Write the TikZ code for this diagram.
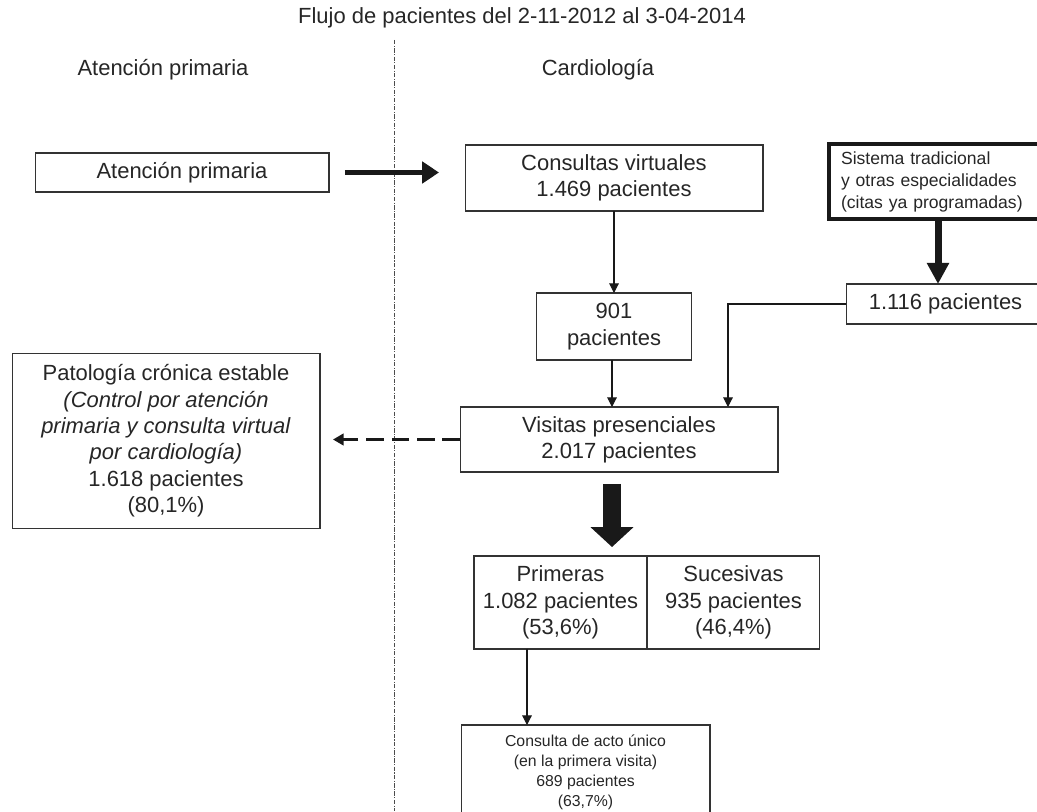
\documentclass[tikz,border=0pt]{standalone}
\usepackage{fontspec}
\setmainfont{Liberation Sans}
\usetikzlibrary{positioning, arrows.meta}

\begin{document}
\begin{tikzpicture}[x=0.02cm, y=-0.02cm,
    box/.style={rectangle, draw=black!80, line width=0.6pt, inner sep=0pt, outer sep=0pt,
      align=center, font=\fontsize{12.5}{15}\selectfont, text=black!85},
    boxthick/.style={rectangle, draw=black!90, line width=1.8pt, inner xsep=0.24cm,
      text width=3.88cm, align=left, font=\fontsize{10}{12.5}\selectfont, text=black!85},
    boxsmall/.style={box, font=\fontsize{9}{11.3}\selectfont},
    lab/.style={font=\fontsize{12.5}{15}\selectfont, text=black!85},
    arrow/.style={-{Triangle[width=5.5pt, length=5.5pt]}, line width=0.6pt, black!90},
    fatarrow/.style={-{Triangle[width=12pt, length=9.6pt]}, line width=3.4pt, black!90},
    fatterarrow/.style={-{Triangle[width=12pt, length=12pt]}, line width=4pt, black!90},
    bigarrow/.style={-{Triangle[width=23.8pt, length=11.3pt]}, line width=10.8pt, black!90},
    dasharrow/.style={-{Triangle[width=6.5pt, length=6pt]}, line width=1.4pt,
      dash pattern=on 10pt off 4.5pt, black!90},
    divider/.style={line width=0.5pt, black!70,
      dash pattern=on 2.5pt off 0.8pt on 0.6pt off 0.8pt}
  ]
    \clip (0,0) rectangle (1037,811);

    % titles
    \node[lab] (title) at (522,18) {Flujo de pacientes del 2-11-2012 al 3-04-2014};
    \node[lab] (hap)   at (163,70) {Atención primaria};
    \node[lab] (hcar)  at (598,70) {Cardiología};
    \draw[divider] (394,40) -- (394,811);

    % boxes
    \node[box, minimum width=5.88cm, minimum height=0.78cm] (ap) at (182,172.5) {Atención primaria};
    \node[box, minimum width=5.96cm, minimum height=1.32cm] (cv) at (614,178)
      {Consultas virtuales\\1.469 pacientes};
    \node[boxthick, minimum height=1.5cm] (st) at (938,181.5)
      {Sistema tradicional\\y otras especialidades\\(citas ya programadas)};
    \node[box, minimum width=3.98cm, minimum height=0.8cm] (n1116) at (945.5,304) {1.116 pacientes};
    \node[box, minimum width=3.1cm, minimum height=1.34cm] (n901) at (614,326.5) {901\\pacientes};
    \node[box, minimum width=6.36cm, minimum height=1.3cm] (vp) at (619,439.5)
      {Visitas presenciales\\2.017 pacientes};
    \node[box, minimum width=6.16cm, minimum height=3.5cm] (pat) at (166,441)
      {Patología crónica estable\\ \textit{(Control por atención}\\ \textit{primaria y consulta virtual}\\
       \textit{por cardiología)}\\1.618 pacientes\\(80,1\%)};
    \node[box, minimum width=3.46cm, minimum height=1.86cm] (prim) at (560.5,602.5)
      {Primeras\\1.082 pacientes\\(53,6\%)};
    \node[box, minimum width=3.46cm, minimum height=1.86cm, right=0pt of prim] (suc)
      {Sucesivas\\935 pacientes\\(46,4\%)};
    \node[boxsmall, minimum width=4.98cm, minimum height=1.9cm] (acto) at (585.5,772.5)
      {Consulta de acto único\\(en la primera visita)\\689 pacientes\\(63,7\%)};

    \coordinate (jn) at (728,0);
    \coordinate (bx) at (612,0);
    \coordinate (ax) at (527,0);

    % connectors
    \draw[fatarrow, shorten <=0.32cm, shorten >=0.52cm] (ap.east) -- (cv.west |- ap.east);
    \draw[fatterarrow] (st.south) -- (st.south |- n1116.north);
    \draw[arrow] (cv) -- (n901);
    \draw[arrow] (n901.south -| bx) -- (vp.north -| bx);
    \draw[arrow] (n1116.west) -| (jn |- vp.north);
    \draw[dasharrow, shorten >=0.26cm] (vp.west) -- (pat.east |- vp.west);
    \draw[bigarrow, shorten <=0.24cm, shorten >=0.18cm] (vp.south -| bx) -- (prim.north -| bx);
    \draw[arrow] (prim.south -| ax) -- (acto.north -| ax);
  \end{tikzpicture}
\end{document}
